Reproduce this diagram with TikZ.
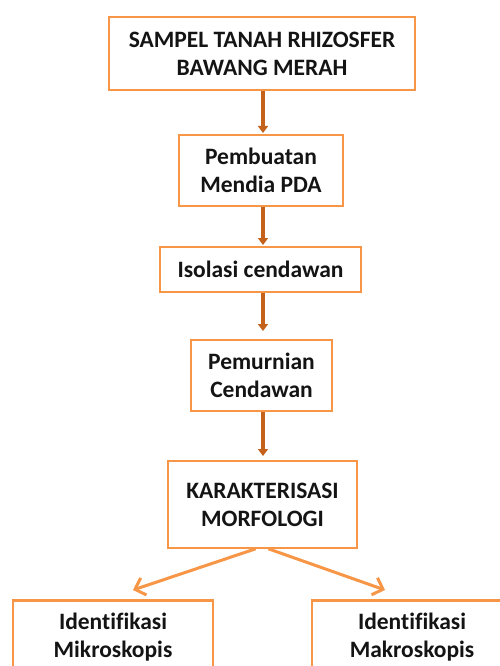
\documentclass[tikz,border=0pt]{standalone}
\usepackage{fontspec}
\setmainfont[Ligatures=NoCommon]{Carlito}
\usetikzlibrary{arrows.meta}
\definecolor{boxorange}{HTML}{F79646}
\definecolor{arrowbrown}{HTML}{C4621C}
\definecolor{txt}{HTML}{141414}
\tikzset{
  flowbox/.style={draw=boxorange, line width=2.8pt, fill=white, align=center,
    font=\fontsize{23.5}{28}\selectfont\bfseries, text=txt, inner sep=0pt},
  downarrow/.style={draw=arrowbrown, line width=3.5pt, -{Triangle[length=7pt,width=10pt]}},
  sidearrow/.style={draw=boxorange, line width=3pt, line cap=round,
    -{Straight Barb[length=9pt,width=18pt,line width=3pt]}}
}
\begin{document}
\begin{tikzpicture}[x=1pt,y=-1pt]
\path[use as bounding box, clip] (0,0) rectangle (500,666);
\fill[white] (0,0) rectangle (500,666);
\node[flowbox, minimum width=306pt, minimum height=73pt] (sampel) at (262,53.5)
  {SAMPEL TANAH RHIZOSFER\\BAWANG MERAH};
\node[flowbox, minimum width=164pt, minimum height=71pt] (pda) at (261,170.5)
  {Pembuatan\\Mendia PDA};
\node[flowbox, minimum width=201pt, minimum height=45pt] (isolasi) at (260.5,269.5)
  {Isolasi cendawan};
\node[flowbox, minimum width=141pt, minimum height=71pt] (murni) at (261.5,375.5)
  {Pemurnian\\Cendawan};
\node[flowbox, minimum width=189pt, minimum height=87pt] (karak) at (262.5,504.5)
  {KARAKTERISASI\\MORFOLOGI};
\node[flowbox, minimum width=200pt, minimum height=73pt] (mikro) at (113,637)
  {Identifikasi\\Mikroskopis};
\node[flowbox, minimum width=200pt, minimum height=73pt] (makro) at (412,637)
  {Identifikasi\\Makroskopis};
\coordinate (tipL) at (133,590);
\coordinate (tipR) at (385,590);
\draw[downarrow] (sampel.south -| 263,0) -- (263,133);
\draw[downarrow] (pda.south -| 263,0) -- (263,245);
\draw[downarrow] (isolasi.south -| 263,0) -- (263,331);
\draw[downarrow] (murni.south -| 263,0) -- (263,456);
\draw[sidearrow] (255,549) -- (tipL);
\draw[sidearrow] (269,549) -- (tipR);
\end{tikzpicture}
\end{document}
